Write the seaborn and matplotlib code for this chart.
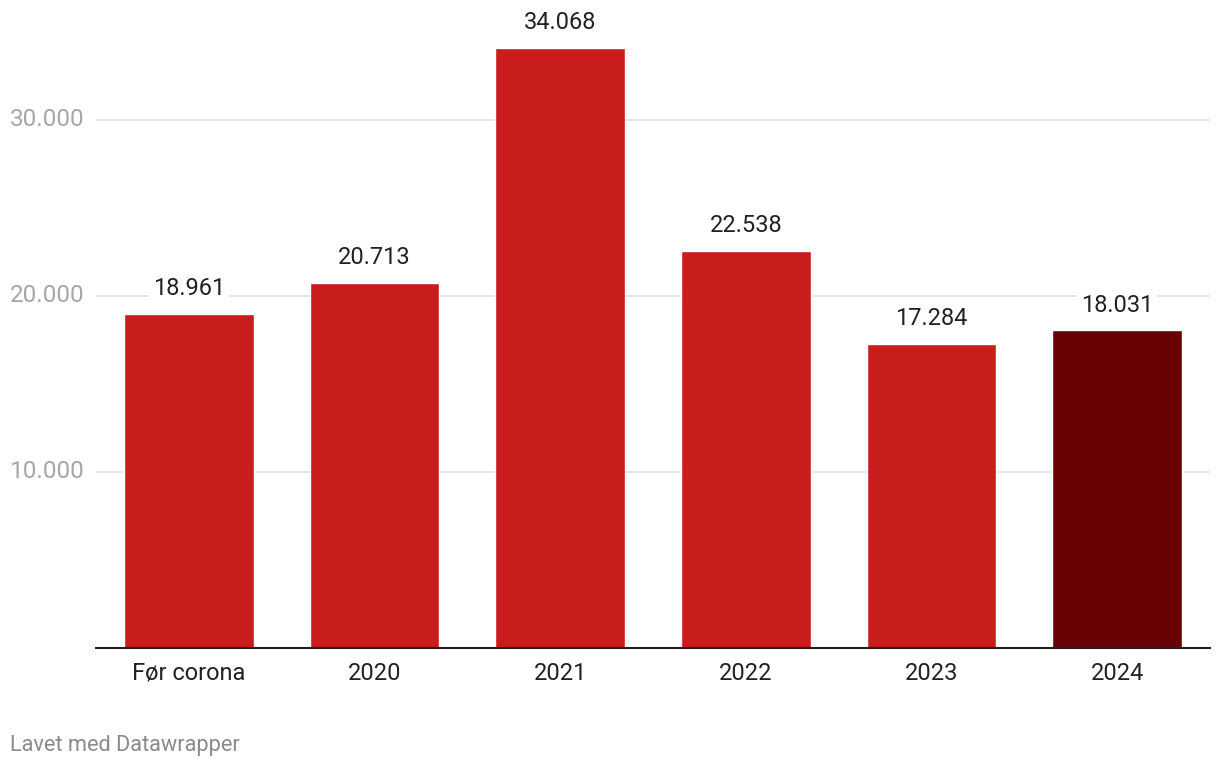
import matplotlib
matplotlib.use("Agg")
import matplotlib.pyplot as plt
import matplotlib.transforms as mtransforms
import seaborn as sns

categories = ["Før corona", "2020", "2021", "2022", "2023", "2024"]
values = [18961, 20713, 34068, 22538, 17284, 18031]
value_labels = ["18.961", "20.713", "34.068", "22.538", "17.284", "18.031"]
bar_colors = ["#c91d1d", "#c91d1d", "#c91d1d", "#c91d1d", "#c91d1d", "#680202"]
yticks = [10000, 20000, 30000]
ytick_labels = ["10.000", "20.000", "30.000"]

sns.set_style("white")
plt.rcParams["font.family"] = ["Roboto", "DejaVu Sans"]

fig = plt.figure(figsize=(12.2, 7.68), dpi=100)
ax = fig.add_axes([96 / 1220, 1 - 648 / 768, (1210 - 96) / 1220, 648 / 768])

sns.barplot(x=categories, y=values, hue=categories, palette=bar_colors,
            legend=False, width=0.7, ax=ax, saturation=1, zorder=3)

ax.set_xlim(-0.5, 5.5)
ax.set_ylim(0, 36800)

for y in yticks:
    ax.axhline(y, color="#e3e3e3", lw=1.3, zorder=1)

for s in ["top", "right", "left"]:
    ax.spines[s].set_visible(False)
ax.spines["bottom"].set_color("#222222")
ax.spines["bottom"].set_linewidth(1.5)
ax.spines["bottom"].set_zorder(4)

ax.set_yticks([])
ax.set_xlabel("")
ax.set_ylabel("")
ax.tick_params(axis="x", length=0, pad=10, labelsize=17, labelcolor="#222222")

trans = mtransforms.blended_transform_factory(fig.transFigure, ax.transData)
for y, lab in zip(yticks, ytick_labels):
    ax.text(10 / 1220, y, lab, transform=trans, ha="left", va="center",
            fontsize=17.5, color="#a6a6a6")

for i, (v, lab) in enumerate(zip(values, value_labels)):
    ax.annotate(lab, (i, v), xytext=(0, 10), textcoords="offset points",
                ha="center", va="bottom", fontsize=17, color="#222222",
                bbox=dict(boxstyle="square,pad=0.15", fc="white", ec="none"),
                zorder=5)

fig.text(10 / 1220, 1 - 745 / 768, "Lavet med Datawrapper", ha="left",
         va="center", fontsize=15.7, color="#8a8a8a")

fig.savefig("out.png", dpi=100)
